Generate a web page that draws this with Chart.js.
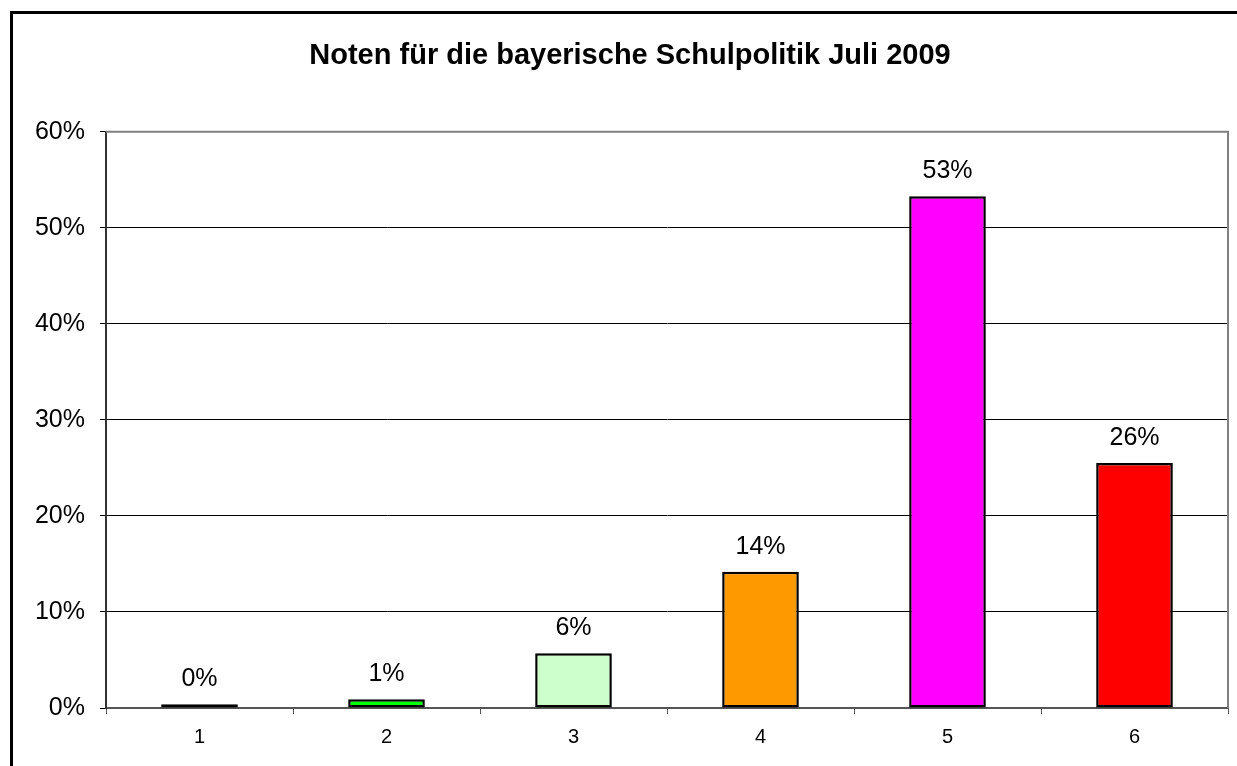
<!DOCTYPE html>
<html>
<head>
<meta charset="utf-8">
<script src="https://cdn.jsdelivr.net/npm/chart.js@4/dist/chart.umd.min.js"></script>
<style>
  html, body { margin: 0; padding: 0; background: #fff; overflow: hidden; }
  #wrap { position: relative; width: 1237px; height: 766px; }
  #frame { position: absolute; left: 10px; top: 11px; width: 1300px; height: 800px; border: 3px solid #000; pointer-events: none; }
</style>
</head>
<body>
<div id="wrap">
  <canvas id="noten" width="1237" height="766"></canvas>
  <div id="frame"></div>
</div>
<script>
// Noten (grades) and share of answers in percent
const grades = ['1', '2', '3', '4', '5', '6'];
const shares = [0.4, 0.9, 5.7, 14.2, 53.3, 25.5];
const barColors = ['#333399', '#00ff00', '#ccffcc', '#ff9900', '#ff00ff', '#ff0000'];
const yTicks = [0, 10, 20, 30, 40, 50, 60];

Chart.defaults.font.family = 'Arial, "Liberation Sans", sans-serif';
Chart.defaults.color = '#000';

// gray frame on top and right side of the plot area
const plotFrame = {
    id: 'plotFrame',
    afterDraw(chart) {
        const a = chart.chartArea;
        const ctx = chart.ctx;
        ctx.save();
        ctx.strokeStyle = '#808080';
        ctx.lineWidth = 2;
        ctx.beginPath();
        ctx.moveTo(a.left, a.top);
        ctx.lineTo(a.right, a.top);
        ctx.lineTo(a.right, a.bottom);
        ctx.stroke();
        ctx.restore();
    }
};

// percent labels above the bars
const valueLabels = {
    id: 'valueLabels',
    afterDatasetsDraw(chart) {
        const ctx = chart.ctx;
        const meta = chart.getDatasetMeta(0);
        ctx.save();
        ctx.font = '25px Arial, "Liberation Sans", sans-serif';
        ctx.fillStyle = '#000';
        ctx.textAlign = 'center';
        ctx.textBaseline = 'alphabetic';
        meta.data.forEach((bar, i) => {
            ctx.fillText(Math.round(shares[i]) + '%', bar.x, bar.y - 18);
        });
        ctx.restore();
    }
};

new Chart(document.getElementById('noten'), {
    type: 'bar',
    data: {
        labels: grades,
        datasets: [{
            data: shares,
            backgroundColor: barColors,
            borderColor: '#000',
            borderWidth: 2.5,
            borderSkipped: false,
            barPercentage: 0.41,
            categoryPercentage: 1
        }]
    },
    options: {
        responsive: false,
        animation: false,
        events: [],
        layout: { padding: { left: 32, right: 9, top: 0, bottom: 0 } },
        plugins: {
            legend: { display: false },
            tooltip: { enabled: false },
            title: {
                display: true,
                text: 'Noten für die bayerische Schulpolitik Juli 2009',
                font: { size: 29, weight: 'bold' },
                color: '#000',
                padding: { top: 39, bottom: 58 }
            }
        },
        scales: {
            x: {
                grid: { drawOnChartArea: false, tickLength: 6, color: '#555' },
                border: { color: '#555', width: 2 },
                ticks: { font: { size: 20 }, padding: 11, maxRotation: 0 },
                afterFit(scale) { scale.height = 58; }
            },
            y: {
                min: 0,
                max: 60,
                afterBuildTicks(scale) { scale.ticks = yTicks.map(v => ({ value: v })); },
                grid: { color: '#000', lineWidth: 1, tickLength: 6 },
                border: { color: '#333', width: 2 },
                ticks: { font: { size: 25 }, padding: 15, callback: v => v + '%' },
                afterFit(scale) { scale.width = 74; }
            }
        }
    },
    plugins: [plotFrame, valueLabels]
});
</script>
</body>
</html>
